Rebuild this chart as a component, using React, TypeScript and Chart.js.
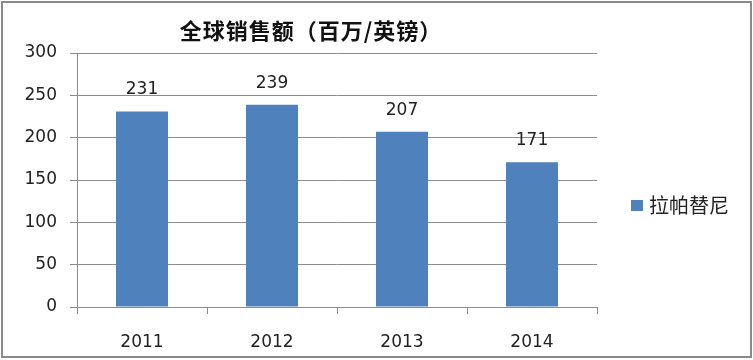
import React, { useEffect, useRef } from "react";
import { Chart, registerables } from "chart.js";

Chart.register(...registerables);

const categories = ["2011", "2012", "2013", "2014"];
const seriesName = "拉帕替尼";
const seriesValues = [231, 239, 207, 171];
const yTicks = [0, 50, 100, 150, 200, 250, 300];
const titleText = "全球销售额（百万/英镑）";

const BAR_COLOR = "#4F81BD";
const GRID_COLOR = "#8c8c8c";
const TICK_FONT = "'DejaVu Sans', sans-serif";

const dataLabelPlugin = {
  id: "dataLabels",
  afterDatasetsDraw(chart: any) {
    const ctx = chart.ctx;
    const meta = chart.getDatasetMeta(0);
    ctx.save();
    ctx.font = `17px ${TICK_FONT}`;
    ctx.fillStyle = "#222";
    ctx.textAlign = "center";
    ctx.textBaseline = "bottom";
    meta.data.forEach((bar: any, i: number) => {
      ctx.fillText(String(seriesValues[i]), bar.x, bar.y - 13);
    });
    ctx.restore();
  },
};

export default function App() {
  const canvasRef = useRef<HTMLCanvasElement | null>(null);

  useEffect(() => {
    if (!canvasRef.current) return;
    const chart = new Chart(canvasRef.current, {
      type: "bar",
      data: {
        labels: categories,
        datasets: [
          {
            label: seriesName,
            data: seriesValues,
            backgroundColor: BAR_COLOR,
            borderWidth: 0,
            barPercentage: 0.8,
            categoryPercentage: 0.5,
          },
        ],
      },
      options: {
        animation: false,
        responsive: false,
        layout: { padding: { left: 0, top: 53, right: 156, bottom: 0 } },
        plugins: {
          legend: { display: false },
          title: { display: false },
          tooltip: { enabled: false },
        },
        scales: {
          x: {
            offset: true,
            grid: {
              offset: true,
              drawOnChartArea: false,
              drawTicks: true,
              tickLength: 7,
              color: GRID_COLOR,
            },
            border: { color: GRID_COLOR, width: 1 },
            ticks: {
              color: "#222",
              font: { family: TICK_FONT, size: 17 },
              padding: 18,
            },
            afterFit: (scale: any) => {
              scale.height = 53;
            },
          },
          y: {
            min: 0,
            max: 300,
            afterBuildTicks: (scale: any) => {
              scale.ticks = yTicks.map((v) => ({ value: v }));
            },
            grid: {
              color: GRID_COLOR,
              tickLength: 7,
              drawTicks: true,
            },
            border: { color: GRID_COLOR, width: 1 },
            ticks: {
              color: "#222",
              font: { family: TICK_FONT, size: 17 },
              padding: 13,
            },
            afterFit: (scale: any) => {
              scale.width = 77;
            },
          },
        },
      },
      plugins: [dataLabelPlugin],
    });
    return () => chart.destroy();
  }, []);

  return (
    <div
      style={{
        position: "fixed",
        left: 0,
        top: 0,
        width: 753,
        height: 360,
        background: "#fff",
      }}
    >
      <canvas ref={canvasRef} width={753} height={360} style={{ position: "absolute", left: 0, top: 0 }} />
      <div
        style={{
          position: "absolute",
          left: 1,
          top: 1,
          width: 751,
          height: 357,
          boxSizing: "border-box",
          border: "2px solid #8a8a8a",
          pointerEvents: "none",
        }}
      />
      <div
        style={{
          position: "absolute",
          left: 311,
          top: 29,
          transform: "translate(-50%, -50%)",
          whiteSpace: "nowrap",
          fontFamily: "'Noto Sans CJK SC', sans-serif",
          fontWeight: 700,
          fontSize: 22,
          letterSpacing: 1,
          color: "#111",
          lineHeight: 1,
        }}
      >
        {titleText}
      </div>
      <div
        style={{
          position: "absolute",
          left: 631,
          top: 205,
          transform: "translateY(-50%)",
          display: "flex",
          alignItems: "center",
          whiteSpace: "nowrap",
          fontFamily: "'Noto Sans CJK SC', sans-serif",
          fontSize: 20,
          color: "#222",
          lineHeight: 1,
        }}
      >
        <span style={{ display: "inline-block", width: 12, height: 11, background: BAR_COLOR, marginRight: 6 }} />
        <span>{seriesName}</span>
      </div>
    </div>
  );
}
